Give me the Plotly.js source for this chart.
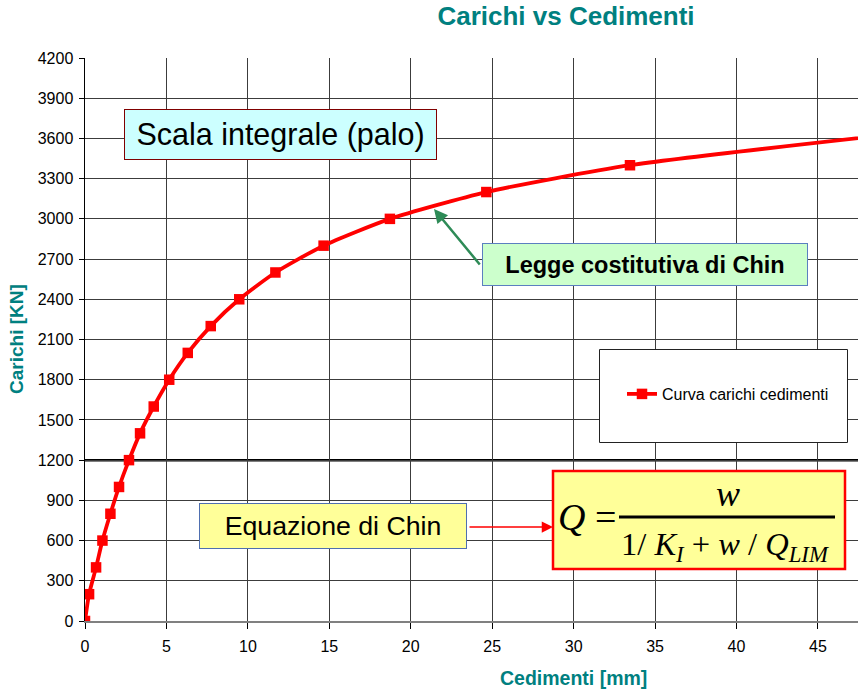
<!DOCTYPE html>
<html>
<head>
<meta charset="utf-8">
<script src="https://cdn.plot.ly/plotly-3.0.1.min.js"></script>
<style>
html,body{margin:0;padding:0;background:#fff;}
#chart{width:858px;height:692px;}
</style>
</head>
<body>
<div id="chart"></div>
<script>
// Data
const cedimenti = [0, 0.25, 0.68, 1.07, 1.56, 2.09, 2.70, 3.38, 4.22, 5.17, 6.31, 7.72, 9.47, 11.69, 14.65, 18.72, 24.64, 33.46, 51];
const carichi   = [0, 200, 400, 600, 800, 1000, 1200, 1400, 1600, 1800, 2000, 2200, 2400, 2600, 2800, 3000, 3200, 3400, 3650];
const seriesName = 'Curva carichi cedimenti';
const xTicks = [0, 5, 10, 15, 20, 25, 30, 35, 40, 45];
const yTicks = [0, 300, 600, 900, 1200, 1500, 1800, 2100, 2400, 2700, 3000, 3300, 3600, 3900, 4200];

const W = 858, H = 692;
const L = 85, R = 0, T = 58, B = 71;
const pw = W - L - R, ph = H - T - B;
const px = v => (v - L) / pw;        // pixel -> paper x
const py = v => (H - B - v) / ph;    // pixel -> paper y

const sans = 'Arial, "Liberation Sans", sans-serif';
const serif = '"Times New Roman", "Liberation Serif", serif';
const teal = '#008080';

const trace = {
  x: cedimenti, y: carichi, name: seriesName,
  type: 'scatter', mode: 'lines+markers',
  line: {color: '#ff0000', width: 3.8, shape: 'spline', smoothing: 0.6},
  marker: {symbol: 'square', size: 10.5, color: '#ff0000'},
  cliponaxis: true
};

const layout = {
  width: W, height: H,
  margin: {l: L, r: R, t: T, b: B, pad: 0},
  paper_bgcolor: '#ffffff', plot_bgcolor: '#ffffff',
  title: {
    text: 'Carichi vs Cedimenti',
    x: 566 / W, xref: 'container', xanchor: 'center',
    y: 1 - 16 / H, yref: 'container', yanchor: 'middle',
    font: {family: sans, size: 26, color: teal, weight: 'bold'}
  },
  showlegend: true,
  legend: {
    x: px(622), y: py(394), xanchor: 'left', yanchor: 'middle',
    bgcolor: 'rgba(0,0,0,0)', borderwidth: 0,
    font: {family: sans, size: 16, color: '#000'}
  },
  xaxis: {
    range: [0, 47.46], tickvals: xTicks, ticktext: xTicks.map(String),
    showgrid: true, gridcolor: '#3c3c3c', gridwidth: 1,
    zeroline: false, showline: true, linecolor: '#808080', linewidth: 2,
    ticks: 'outside', ticklen: 6, tickcolor: '#000', tickwidth: 1,
    ticklabelstandoff: 4,
    tickfont: {family: sans, size: 16, color: '#000'},
    fixedrange: true
  },
  yaxis: {
    range: [0, 4200], tickvals: yTicks, ticktext: yTicks.map(String),
    showgrid: true, gridcolor: '#3c3c3c', gridwidth: 1,
    zeroline: false, showline: true, linecolor: '#000', linewidth: 1.5,
    ticks: 'outside', ticklen: 5, tickcolor: '#000', tickwidth: 1,
    ticklabelstandoff: 2,
    tickfont: {family: sans, size: 16, color: '#000'},
    fixedrange: true
  },
  shapes: [
    // emphasised gridline
    {type: 'line', xref: 'paper', yref: 'y', x0: 0, x1: 1, y0: yTicks[4], y1: yTicks[4],
     line: {color: '#000', width: 2.5}, layer: 'below'},
    // legend frame
    {type: 'rect', xref: 'paper', yref: 'paper', x0: px(599.5), x1: px(847.5), y0: py(442.5), y1: py(349.5),
     line: {color: '#222', width: 1}, fillcolor: '#ffffff', layer: 'above'},
    // equation frame
    {type: 'rect', xref: 'paper', yref: 'paper', x0: px(553), x1: px(845), y0: py(569), y1: py(471),
     line: {color: '#ff0000', width: 2.5}, fillcolor: '#ffff99', layer: 'above'},
    // fraction bar
    {type: 'line', xref: 'paper', yref: 'paper', x0: px(619), x1: px(835), y0: py(517), y1: py(517),
     line: {color: '#000', width: 3}, layer: 'above'}
  ],
  annotations: [
    // axis titles
    {text: 'Cedimenti [mm]', xref: 'paper', yref: 'paper', x: px(573), y: py(678),
     showarrow: false, xanchor: 'center', yanchor: 'middle',
     font: {family: sans, size: 19.5, color: teal, weight: 'bold'}},
    {text: 'Carichi [KN]', xref: 'paper', yref: 'paper', x: px(16), y: py(339), textangle: -90,
     showarrow: false, xanchor: 'center', yanchor: 'middle',
     font: {family: sans, size: 19, color: teal, weight: 'bold'}},
    // text boxes
    {text: 'Scala integrale (palo)', xref: 'paper', yref: 'paper', x: px(280.5), y: py(134.5),
     showarrow: false, xanchor: 'center', yanchor: 'middle', width: 311, height: 49,
     bgcolor: '#ccffff', bordercolor: '#800000', borderwidth: 1, borderpad: 0,
     font: {family: sans, size: 30.5, color: '#000'}},
    {text: 'Legge costitutiva di Chin', xref: 'paper', yref: 'paper', x: px(645), y: py(264.5),
     showarrow: false, xanchor: 'center', yanchor: 'middle', width: 324, height: 41,
     bgcolor: '#ccffcc', bordercolor: '#5b7fc0', borderwidth: 1, borderpad: 0,
     font: {family: sans, size: 23.5, color: '#000', weight: 'bold'}},
    {text: 'Equazione di Chin', xref: 'paper', yref: 'paper', x: px(333), y: py(526),
     showarrow: false, xanchor: 'center', yanchor: 'middle', width: 266, height: 44,
     bgcolor: '#ffff99', bordercolor: '#4f6fb0', borderwidth: 1, borderpad: 0,
     font: {family: sans, size: 26.7, color: '#000'}},
    // arrows
    {text: '', xref: 'paper', yref: 'paper', x: px(434), y: py(209), ax: 47, ay: 57,
     showarrow: true, arrowhead: 2, arrowsize: 1.1, arrowwidth: 2.5, arrowcolor: '#2e8b57', standoff: 0},
    {text: '', xref: 'paper', yref: 'paper', x: px(553), y: py(527), ax: -85, ay: 0,
     showarrow: true, arrowhead: 2, arrowsize: 1.5, arrowwidth: 1.5, arrowcolor: '#ff0000', standoff: 0},
    // equation
    {text: '<i>Q</i> =', xref: 'paper', yref: 'paper', x: px(587), y: py(517),
     showarrow: false, xanchor: 'center', yanchor: 'middle',
     font: {family: serif, size: 38, color: '#000'}},
    {text: '<i>w</i>', xref: 'paper', yref: 'paper', x: px(728), y: py(494),
     showarrow: false, xanchor: 'center', yanchor: 'middle',
     font: {family: serif, size: 36, color: '#000'}},
    {text: '1/ <i>K<sub>I</sub></i> + <i>w</i> / <i>Q<sub>LIM</sub></i>', xref: 'paper', yref: 'paper', x: px(725), y: py(546),
     showarrow: false, xanchor: 'center', yanchor: 'middle',
     font: {family: serif, size: 32.5, color: '#000'}}
  ]
};

Plotly.newPlot('chart', [trace], layout, {displayModeBar: false, staticPlot: true});
</script>
</body>
</html>
